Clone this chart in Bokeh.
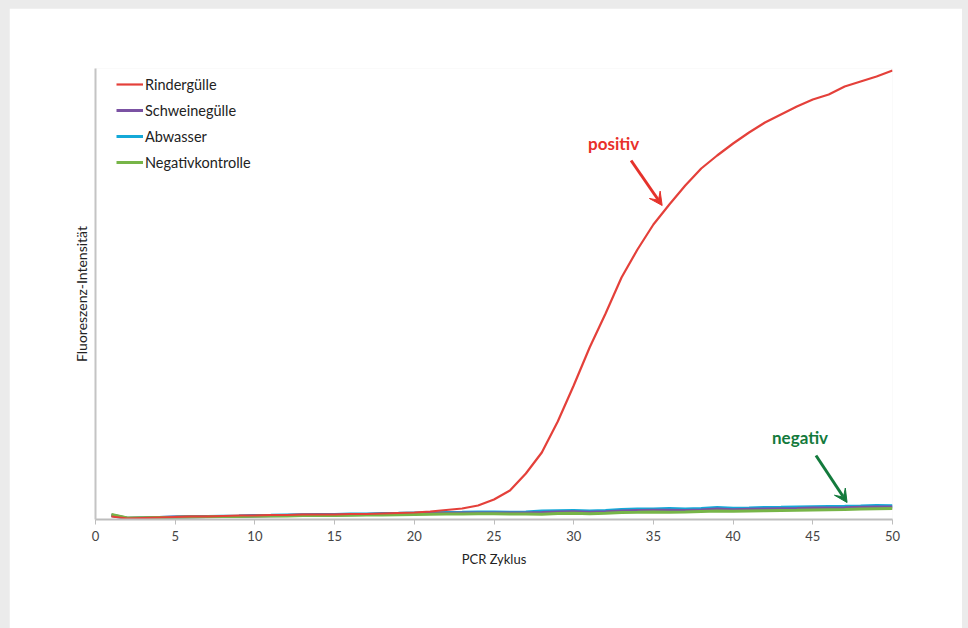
from bokeh.plotting import figure
from bokeh.models import Arrow, VeeHead, FixedTicker, Legend, LegendItem, Label
from bokeh.embed import file_html
from bokeh.resources import INLINE

cycles = list(range(1, 51))

rindergulle = [30, 10, 15, 20, 25, 30, 30, 35, 40, 40,
               45, 45, 50, 50, 50, 55, 55, 60, 65, 70,
               80, 95, 110, 140, 200, 290, 460, 670, 980, 1340,
               1720, 2060, 2420, 2700, 2950, 3150, 3340, 3510, 3640, 3760,
               3870, 3970, 4050, 4130, 4200, 4250, 4330, 4380, 4430, 4490]

abwasser = [40, 10, 15, 20, 25, 28, 30, 33, 35, 40,
            42, 45, 48, 50, 50, 55, 55, 60, 62, 65,
            68, 70, 72, 75, 75, 72, 75, 85, 88, 90,
            85, 90, 100, 105, 105, 110, 105, 110, 120, 112,
            115, 120, 122, 125, 128, 130, 132, 135, 140, 138]

schweinegulle = [45, 12, 16, 20, 24, 27, 29, 31, 33, 36,
                 38, 40, 44, 45, 45, 48, 50, 53, 55, 58,
                 60, 62, 64, 66, 66, 64, 66, 70, 75, 78,
                 72, 78, 86, 90, 92, 92, 90, 96, 104, 98,
                 102, 106, 108, 110, 114, 116, 118, 122, 126, 126]

negativkontrolle = [50, 15, 18, 20, 22, 25, 27, 30, 30, 32,
                    35, 35, 40, 40, 40, 42, 45, 45, 48, 50,
                    52, 55, 55, 58, 58, 55, 55, 52, 60, 62,
                    58, 62, 70, 72, 75, 72, 75, 80, 85, 82,
                    85, 88, 90, 92, 95, 98, 100, 105, 108, 110]

series_names = ["Rindergülle", "Schweinegülle", "Abwasser", "Negativkontrolle"]
series_colors = ["#e4403a", "#7b52a3", "#14a9d8", "#77b548"]
x_ticks = [0, 5, 10, 15, 20, 25, 30, 35, 40, 45, 50]

# annotation anchor points (data units)
pos_label = (32.5, 3760)
pos_arrow = (33.6, 3590, 35.55, 3140)
neg_label = (44.2, 820)
neg_arrow = (45.2, 640, 47.15, 170)

FONT = "Lato"

p = figure(width=953, height=620, output_backend="svg", toolbar_location=None,
           x_range=(0, 50), y_range=(0, 4510),
           min_border_left=86, min_border_right=70, min_border_top=60, min_border_bottom=109)
p.background_fill_color = "white"
p.border_fill_color = "white"
p.outline_line_color = None
p.grid.grid_line_color = None

series = [rindergulle, schweinegulle, abwasser, negativkontrolle]
widths = [2.2, 3, 3, 3]
order = [2, 1, 3, 0]  # draw blue, purple, green, then red on top
rmap = {}
for i in order:
    rmap[i] = p.line(cycles, series[i], line_color=series_colors[i], line_width=widths[i])

legend = Legend(items=[LegendItem(label=series_names[i], renderers=[rmap[i]]) for i in range(4)],
                location=(21, 347), padding=0, margin=0, spacing=6,
                glyph_width=27, glyph_height=20, label_standoff=2,
                border_line_color=None, background_fill_alpha=0,
                label_text_font=FONT, label_text_font_size="14.5px", label_text_color="#222222")
p.add_layout(legend)

# axes
p.xaxis.ticker = FixedTicker(ticks=x_ticks)
p.xaxis.axis_line_color = "#bdbdbd"
p.xaxis.axis_line_width = 2
p.xaxis.major_tick_line_color = "#bdbdbd"
p.xaxis.major_tick_out = 5
p.xaxis.major_tick_in = 0
p.xaxis.minor_tick_line_color = None
p.xaxis.major_label_text_font = FONT
p.xaxis.major_label_text_font_size = "13px"
p.xaxis.major_label_text_color = "#444444"
p.xaxis.major_label_standoff = 6
p.xaxis.axis_label = "PCR Zyklus"
p.xaxis.axis_label_text_font = FONT
p.xaxis.axis_label_text_font_size = "13px"
p.xaxis.axis_label_text_font_style = "normal"
p.xaxis.axis_label_text_color = "#222222"
p.xaxis.axis_label_standoff = 7

p.yaxis.ticker = FixedTicker(ticks=[])
p.yaxis.axis_line_color = "#c4c4c4"
p.yaxis.axis_line_width = 2
p.yaxis.major_tick_line_color = None
p.yaxis.minor_tick_line_color = None
p.yaxis.axis_label = "Fluoreszenz-Intensität"
p.yaxis.axis_label_text_font = FONT
p.yaxis.axis_label_text_font_size = "14px"
p.yaxis.axis_label_text_font_style = "normal"
p.yaxis.axis_label_text_color = "#222222"
p.yaxis.axis_label_standoff = 6

# annotations
p.add_layout(Label(x=pos_label[0], y=pos_label[1], text="positiv", text_align="center",
                   text_baseline="middle", text_font=FONT, text_font_style="bold",
                   text_font_size="17px", text_color="#e8302a"))
p.add_layout(Arrow(x_start=pos_arrow[0], y_start=pos_arrow[1], x_end=pos_arrow[2], y_end=pos_arrow[3],
                   line_color="#e5322b", line_width=3,
                   end=VeeHead(size=13, line_color="#e5322b", fill_color="#e5322b", line_width=1)))
p.add_layout(Label(x=neg_label[0], y=neg_label[1], text="negativ", text_align="center",
                   text_baseline="middle", text_font=FONT, text_font_style="bold",
                   text_font_size="17px", text_color="#137a3c"))
p.add_layout(Arrow(x_start=neg_arrow[0], y_start=neg_arrow[1], x_end=neg_arrow[2], y_end=neg_arrow[3],
                   line_color="#137a3c", line_width=3,
                   end=VeeHead(size=13, line_color="#137a3c", fill_color="#137a3c", line_width=1)))

html = file_html(p, INLINE)
css = ("<style>html, body { background-color: #ebebeb !important; } "
       "body { padding: 8px 0 0 9px !important; margin: 0 !important; "
       "box-sizing: border-box; overflow: hidden; }</style>")
html = html.replace("</head>", css + "</head>", 1)
open("out.html", "w").write(html)
